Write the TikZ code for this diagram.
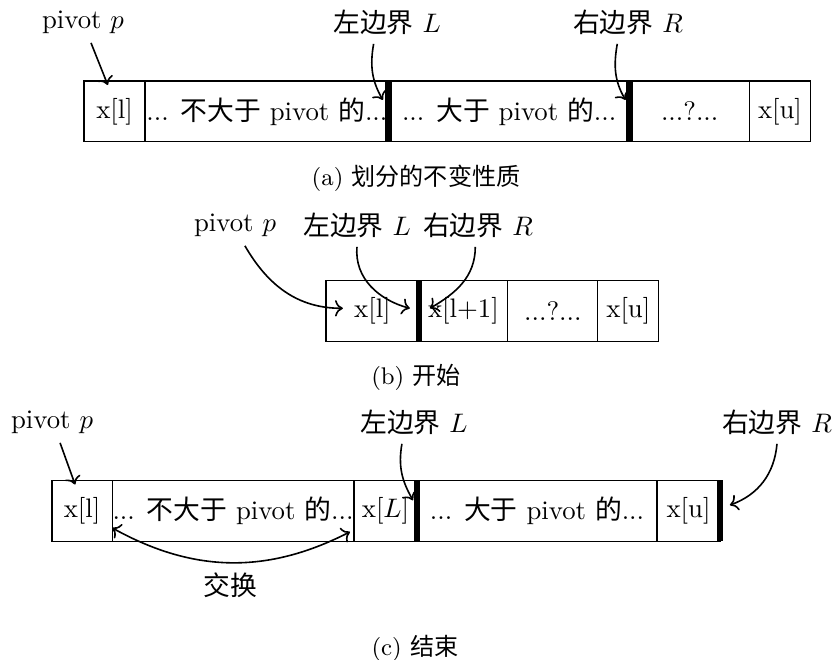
\documentclass[tikz,border=0pt]{standalone}
\usepackage{fontspec}
\newfontfamily\cjk{Noto Sans CJK SC}
\newcommand{\zh}[1]{{\cjk #1}}
\usepackage{tikz}
\usetikzlibrary{positioning,arrows.meta}

\begin{document}
\begin{tikzpicture}[
    cell/.style={draw, outer sep=0pt, inner sep=0pt, minimum height=0.8cm},
    bar/.style={line width=2.5pt},
    arr/.style={->, semithick},
    subcap/.style={font=\small}
  ]
  \useasboundingbox (0,0) rectangle (11,8.663);

  % (a) the invariant of the partition
  \node[cell, minimum width=0.80cm, anchor=west] (a1) at (1.103,7.20) {x[l]};
  \node[cell, minimum width=3.20cm, right=0pt of a1] (a2) {... \zh{不大于} pivot \zh{的}...};
  \node[cell, minimum width=3.16cm, right=0pt of a2] (a3) {... \zh{大于} pivot \zh{的}...};
  \node[cell, minimum width=1.58cm, right=0pt of a3] (a4) {...?...};
  \node[cell, minimum width=0.79cm, right=0pt of a4] (a5) {x[u]};
  \draw[bar] (a2.north east) -- (a2.south east);
  \draw[bar] (a3.north east) -- (a3.south east);

  \node (pa) at (1.089,8.374) {pivot $p$};
  \node (la) at (5.080,8.374) {\zh{左边界} $L$};
  \node (ra) at (8.243,8.374) {\zh{右边界} $R$};
  \draw[arr] ([xshift=3pt]pa.south) -- ([xshift=-2.5pt,yshift=-1.5pt]a1.north);
  \draw[arr] ([xshift=-5pt]la.south) to[out=-100,in=120] ([xshift=-2.2pt,yshift=4.3pt]a2.east);
  \draw[arr] ([xshift=-4pt]ra.south) to[out=-100,in=120] ([xshift=-1.5pt,yshift=4.3pt]a3.east);

  \node[subcap] (capa) at (5.461,6.327) {(a) \zh{划分的不变性质}};

  % (b) start
  \node[cell, minimum width=1.22cm, anchor=west] (b1) at (4.279,4.581) {x[l]};
  \node[cell, minimum width=1.168cm, right=0pt of b1] (b2) {x[l+1]};
  \node[cell, minimum width=1.181cm, right=0pt of b2] (b3) {...?...};
  \node[cell, minimum width=0.80cm, right=0pt of b3] (b4) {x[u]};
  \draw[bar] (b1.north east) -- (b1.south east);

  \node (pb) at (3.085,5.710) {pivot $p$};
  \node (lb) at (4.686,5.710) {\zh{左边界} $L$};
  \node (rb) at (6.274,5.710) {\zh{右边界} $R$};
  \draw[arr] ([xshift=3.7pt]pb.south) to[out=-60,in=180] ([xshift=6.3pt,yshift=1pt]b1.west);
  \draw[arr] (lb.south) to[out=-95,in=165] ([xshift=-3.4pt,yshift=1pt]b1.east);
  \draw[arr] ([xshift=-1pt]rb.south) to[out=-90,in=30] ([xshift=4.1pt,yshift=1pt]b1.east);

  \node[subcap] (capb) at (5.461,3.715) {(b) \zh{开始}};

  % (c) end
  \node[cell, minimum width=0.788cm, anchor=west] (c1) at (0.683,1.956) {x[l]};
  \node[cell, minimum width=3.176cm, right=0pt of c1] (c2) {... \zh{不大于} pivot \zh{的}...};
  \node[cell, minimum width=0.827cm, right=0pt of c2] (c3) {x[$L$]};
  \node[cell, minimum width=3.150cm, right=0pt of c3] (c4) {... \zh{大于} pivot \zh{的}...};
  \node[cell, minimum width=0.827cm, right=0pt of c4] (c5) {x[u]};
  \draw[bar] (c3.north east) -- (c3.south east);
  \draw[bar] (c5.north east) -- (c5.south east);

  \node (pc) at (0.683,3.124) {pivot $p$};
  \node (lc) at (5.434,3.124) {\zh{左边界} $L$};
  \node (rc) at (10.199,3.124) {\zh{右边界} $R$};
  \draw[arr] ([xshift=3pt]pc.south) -- ([xshift=-2.6pt,yshift=-1.5pt]c1.north);
  \draw[arr] ([xshift=-4.5pt]lc.south) to[out=-100,in=120] ([xshift=-1.5pt,yshift=4pt]c3.east);
  \draw[arr] (rc.south) to[out=-95,in=20] ([xshift=3.7pt,yshift=2.2pt]c5.east);
  \draw[arr, <->] ([yshift=-6.3pt]c2.west) to[bend right=28]
    node[below] (swp) {\zh{交换}} ([xshift=-1.5pt,yshift=-7.8pt]c2.east);

  \node[subcap] (capc) at (5.447,0.158) {(c) \zh{结束}};
\end{tikzpicture}
\end{document}
